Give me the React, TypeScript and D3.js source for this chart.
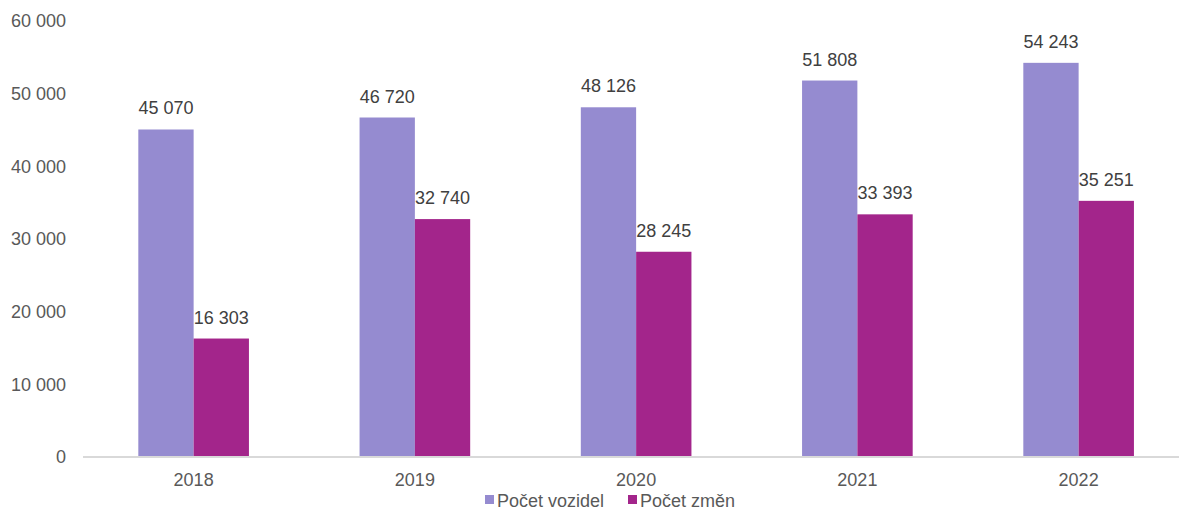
import * as d3 from 'd3';

const years = ['2018', '2019', '2020', '2021', '2022'];
const vozidel = [45070, 46720, 48126, 51808, 54243];
const zmen = [16303, 32740, 28245, 33393, 35251];
const seriesNames = ['Počet vozidel', 'Počet změn'];
const seriesColors = ['#958BD0', '#A3258B'];
const yTicks = [0, 10000, 20000, 30000, 40000, 50000, 60000];

const W = 1179;
const H = 511;
const font = 'Liberation Sans, Arial, sans-serif';

const fmt = (v: number) => d3.format(',')(v).replace(/,/g, ' ');

export default function App() {
  const x = d3.scaleBand<string>().domain(years).range([83, 1189.25]).paddingInner(0).paddingOuter(0);
  // two bars side by side, half of the band left empty
  const sub = d3.scaleBand<number>().domain([0, 1]).range([0, x.bandwidth()]).paddingInner(0).paddingOuter(1);
  const y = d3.scaleLinear().domain([0, 60000]).range([457, 21]);

  const series = [vozidel, zmen];

  return (
    <svg width={W} height={H} style={{ position: 'absolute', left: 0, top: 0 }} fontFamily={font}>
      {yTicks.map((t) => (
        <text key={t} x={66} y={y(t)} dy="0.35em" textAnchor="end" fontSize={18} fill="#595959">
          {fmt(t)}
        </text>
      ))}
      {series.map((vals, si) =>
        vals.map((v, i) => {
          const bx = (x(years[i]) ?? 0) + (sub(si) ?? 0);
          return (
            <g key={`${si}-${i}`}>
              <rect x={bx} y={y(v)} width={sub.bandwidth()} height={y(0) - y(v)} fill={seriesColors[si]} />
              <text x={bx + sub.bandwidth() / 2} y={y(v) - 15} textAnchor="middle" fontSize={18} fill="#404040">
                {fmt(v)}
              </text>
            </g>
          );
        })
      )}
      <line x1={83} x2={W} y1={y(0)} y2={y(0)} stroke="#D9D9D9" strokeWidth={2} />
      {years.map((yr) => (
        <text key={yr} x={(x(yr) ?? 0) + x.bandwidth() / 2} y={486} textAnchor="middle" fontSize={18} fill="#595959">
          {yr}
        </text>
      ))}
      <g>
        {seriesNames.map((n, i) => {
          const lx = i === 0 ? 485 : 628;
          return (
            <g key={n}>
              <rect x={lx} y={495} width={9} height={9} fill={seriesColors[i]} />
              <text x={lx + 12} y={507} fontSize={18} fill="#595959">
                {n}
              </text>
            </g>
          );
        })}
      </g>
    </svg>
  );
}
